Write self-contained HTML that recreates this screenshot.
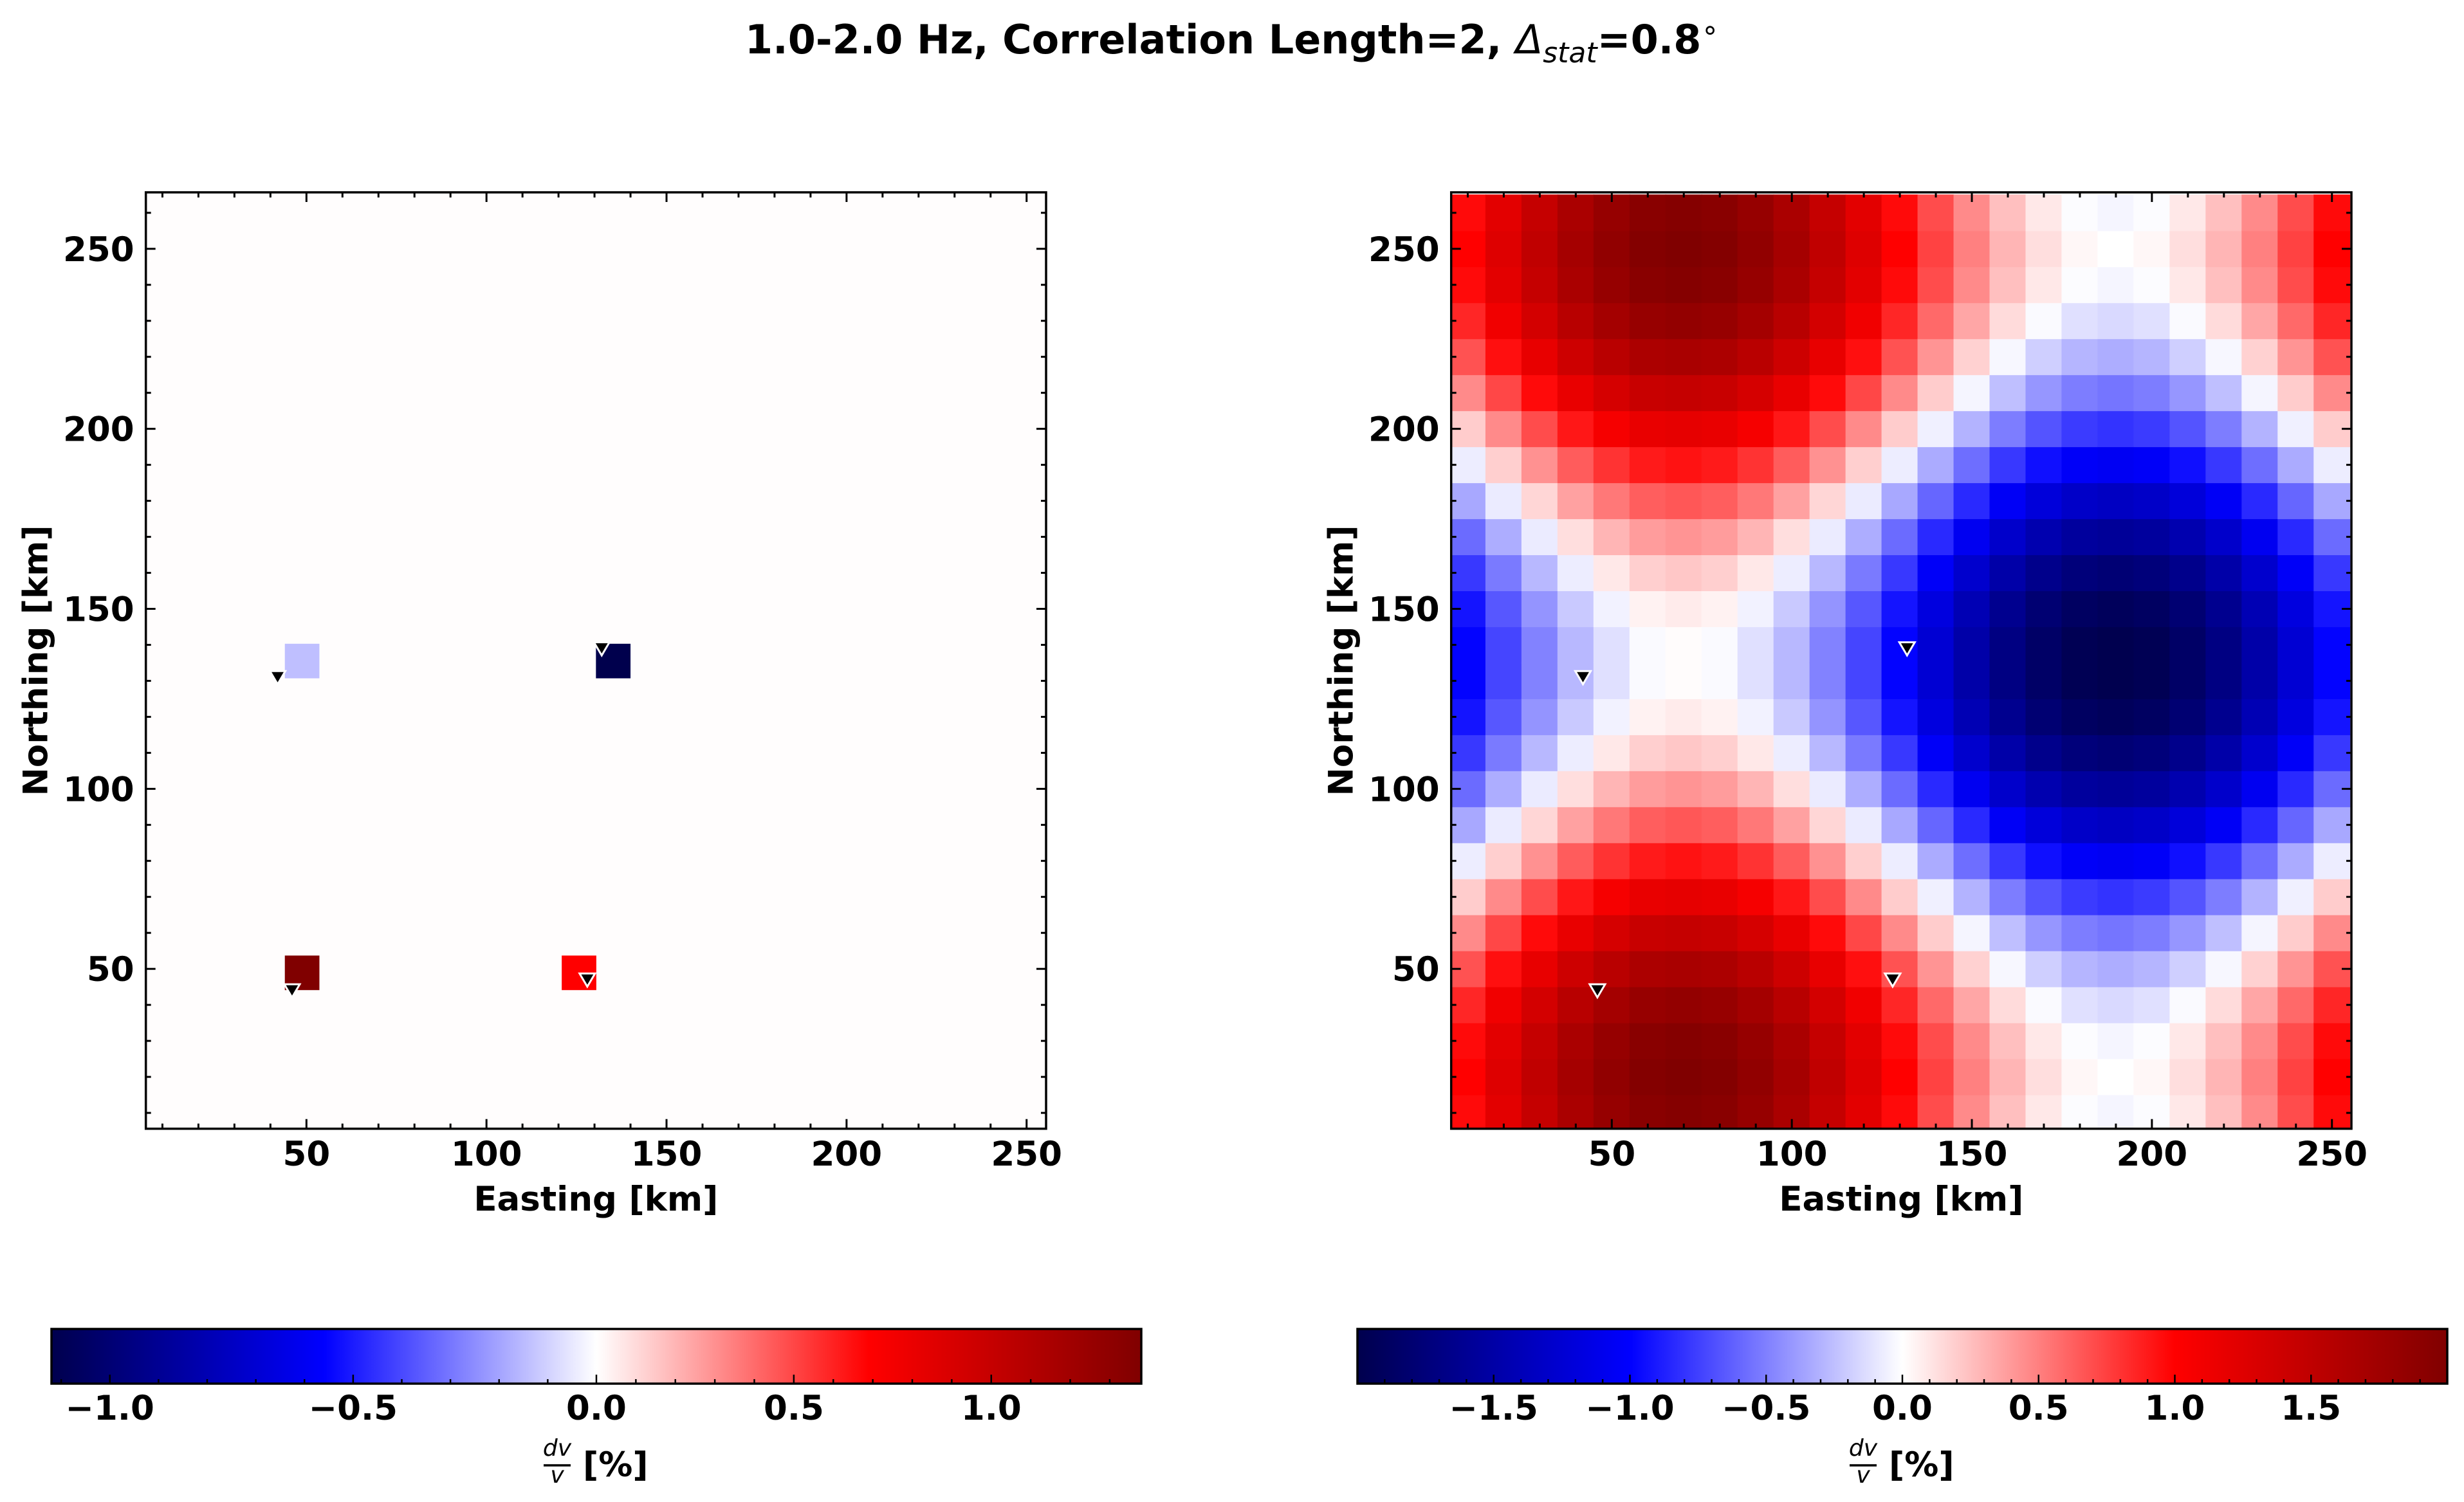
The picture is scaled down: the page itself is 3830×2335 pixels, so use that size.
<!DOCTYPE html>
<html><head><meta charset="utf-8">
<style>
html,body{margin:0;padding:0;background:#fff;}
svg{display:block;font-family:"DejaVu Sans","Liberation Sans",sans-serif;}
</style></head>
<body>
<svg id="fig" width="3830" height="2335" viewBox="0 0 3830 2335" xmlns="http://www.w3.org/2000/svg">
<defs>
<linearGradient id="seis" x1="0" x2="1" y1="0" y2="0">
<stop offset="0" stop-color="#00004d"/>
<stop offset="0.25" stop-color="#0000ff"/>
<stop offset="0.5" stop-color="#ffffff"/>
<stop offset="0.75" stop-color="#ff0000"/>
<stop offset="1" stop-color="#800000"/>
</linearGradient>
</defs>
<text x="1915" y="83" text-anchor="middle" font-size="62" font-weight="bold">1.0-2.0 Hz, Correlation Length=2, <tspan font-style="italic" font-weight="normal">Δ</tspan><tspan font-style="italic" font-weight="normal" font-size="44" dy="14">stat</tspan><tspan dy="-14">=0.8</tspan><tspan font-size="44" dy="-22" font-weight="normal">∘</tspan></text>
<g id="left"></g>
<g id="right"></g>
</svg>
<script>
// ---- data ----
const gridEast = [10,20,30,40,50,60,70,80,90,100,110,120,130,140,150,160,170,180,190,200,210,220,230,240,250];
const colProfile = [0,0.26,0.5,0.71,0.87,0.97,1,0.97,0.87,0.71,0.5,0.26,0,-0.26,-0.5,-0.71,-0.87,-0.97,-1,-0.97,-0.87,-0.71,-0.5,-0.26,0];
const gridNorth = [10,20,30,40,50,60,70,80,90,100,110,120,130,140,150,160,170,180,190,200,210,220,230,240,250,260];
const rowProfile = [0.96,1,0.96,0.85,0.68,0.46,0.2,-0.07,-0.34,-0.58,-0.78,-0.92,-0.99,-0.99,-0.92,-0.78,-0.58,-0.34,-0.07,0.2,0.46,0.68,0.85,0.96,1,0.96];
const leftCellEast = [48.8,135.2,48.8,125.7];
const leftCellNorth = [135.5,135.5,48.9,48.9];
const leftCellValue = [-0.14,-1.12,1.38,0.69];
const leftBackground = 0.006;
const stationEast = [42,132,46,128];
const stationNorth = [131,139,44,47];
const axisTicks = [50,100,150,200,250];
const leftCbTicks = [-1.0,-0.5,0.0,0.5,1.0];
const rightCbTicks = [-1.5,-1.0,-0.5,0.0,0.5,1.0,1.5];

const NS='http://www.w3.org/2000/svg';
function mk(tag,attrs,parent){const e=document.createElementNS(NS,tag);for(const k in attrs)e.setAttribute(k,attrs[k]);parent.appendChild(e);return e;}
function seismic(t){
  t=Math.max(0,Math.min(1,t));
  const st=[[0,0,0,77],[0.25,0,0,255],[0.5,255,255,255],[0.75,255,0,0],[1,128,0,0]];
  for(let i=0;i<4;i++){const a=st[i],b=st[i+1];if(t<=b[0]){const f=(t-a[0])/(b[0]-a[0]);
    return 'rgb('+Math.round(a[1]+f*(b[1]-a[1]))+','+Math.round(a[2]+f*(b[2]-a[2]))+','+Math.round(a[3]+f*(b[3]-a[3]))+')';}}
  return 'rgb(128,0,0)';
}
function makeNorm(vmin,vmax){return v=> v<0 ? 0.5-0.5*v/vmin : 0.5+0.5*v/vmax;}

function panel(g,L,opts){
  const T=299,B=1754.7,R=L+1399.3,S=5.597,x0=5.4,y0=5.6;
  const px=x=>L+(x-x0)*S, py=y=>B-(y-y0)*S;
  const clip=mk('clipPath',{id:'clip'+opts.id},g); mk('rect',{x:L,y:T,width:R-L,height:B-T},clip);
  const cells=mk('g',{'clip-path':'url(#clip'+opts.id+')'},g);
  
  
  opts.draw(cells,px,py,S);
  for(let i=0;i<stationEast.length;i++){
    const cx=px(stationEast[i]),cy=py(stationNorth[i]),h=12;
    const tri=mk('polygon',{points:(cx-h)+','+(cy-h*0.8)+' '+(cx+h)+','+(cy-h*0.8)+' '+cx+','+(cy+h*0.9),fill:'#000',stroke:'#fff','stroke-width':3,'stroke-linejoin':'miter'},g);
    
    
  }
  const tk=mk('g',{stroke:'#000','stroke-width':3},g);
  
  
  for(let v=10;v<=260;v+=10){
    const major=v%50===0, len=major?15:8;
    if(v<=255){const x=px(v);mk('line',{x1:x,x2:x,y1:B,y2:B-len},tk);mk('line',{x1:x,x2:x,y1:T,y2:T+len},tk);}
    const y=py(v);if(y>T&&y<B){mk('line',{x1:L,x2:L+len,y1:y,y2:y},tk);mk('line',{x1:R,x2:R-len,y1:y,y2:y},tk);}
  }
  for(const v of axisTicks){
    const xl=mk('text',{x:px(v),y:1812,'text-anchor':'middle','font-size':53,'font-weight':'bold'},g);xl.textContent=v;
    
    
    const yl=mk('text',{x:L-18,y:py(v)+19,'text-anchor':'end','font-size':53,'font-weight':'bold'},g);yl.textContent=v;
    
    
  }
  const fr=mk('rect',{x:L,y:T,width:R-L,height:B-T,fill:'none',stroke:'#000','stroke-width':3.5},g);
  
  
  const xt=mk('text',{x:(L+R)/2,y:1882,'text-anchor':'middle','font-size':53,'font-weight':'bold'},g);xt.textContent='Easting [km]';
  
  
  const ytx=L-226+54+19;
  const yt=mk('text',{x:ytx,y:(T+B)/2,'text-anchor':'middle','font-size':53,'font-weight':'bold',transform:'rotate(-90 '+ytx+' '+(T+B)/2+')'},g);yt.textContent='Northing [km]';
  
  
  const cL=opts.cbL,cR=cL+1694,cT=2066,cB=2151,mid=(cL+cR)/2,half=(cR-cL)/2;
  const cpos=v=> v<0 ? mid+v/(-opts.vmin)*half : mid+v/opts.vmax*half;
  const cb=mk('rect',{x:cL,y:cT,width:cR-cL,height:cB-cT,fill:'url(#seis)',stroke:'#000','stroke-width':3.5},g);
  
  
  const ct=mk('g',{stroke:'#000','stroke-width':2.5},g);
  for(let k=-30;k<=30;k++){const v=k/10;if(v<=opts.vmin||v>=opts.vmax)continue;
    const major=k%5===0,x=cpos(v);mk('line',{x1:x,x2:x,y1:cB,y2:cB-(major?14:7)},ct);}
  for(const v of opts.ticks){
    const t=mk('text',{x:cpos(v),y:2207,'text-anchor':'middle','font-size':53,'font-weight':'bold'},g);
    t.textContent=(v<0?'\u2212':'')+Math.abs(v).toFixed(1);
    
    
  }
  const lab=mk('g',{},g);
  
  
  const fx=cL+786;
  const n=mk('text',{x:fx,y:2263,'text-anchor':'middle','font-size':36,'font-style':'italic'},lab);n.textContent='dv';
  mk('line',{x1:fx-21,x2:fx+21,y1:2278,y2:2278,stroke:'#000','stroke-width':3.5},lab);
  const d=mk('text',{x:fx,y:2305,'text-anchor':'middle','font-size':36,'font-style':'italic'},lab);d.textContent='v';
  const p=mk('text',{x:fx+40,y:2295,'font-size':53,'font-weight':'bold'},lab);p.textContent='[%]';
}

panel(document.getElementById('left'),226.7,{id:'L',cbL:80,vmin:-1.12,vmax:1.38,ticks:leftCbTicks,
  draw:(g,px,py,S)=>{
    const n=makeNorm(-1.12,1.38);
    const bg=mk('rect',{x:px(5),y:py(270),width:px(260)-px(5),height:py(0)-py(270),fill:seismic(n(leftBackground))},g);
    
    
    for(let i=0;i<leftCellValue.length;i++){
      const w=9.6;
      const r=mk('rect',{x:px(leftCellEast[i]-w/2),y:py(leftCellNorth[i]+w/2),width:w*S,height:w*S,fill:seismic(n(leftCellValue[i]))},g);
      
      
    }
  }});
panel(document.getElementById('right'),2255.7,{id:'R',cbL:2110,vmin:-2.0,vmax:2.0,ticks:rightCbTicks,
  draw:(g,px,py,S)=>{
    const n=makeNorm(-2.0,2.0);
    for(let i=0;i<gridEast.length;i++){for(let j=0;j<gridNorth.length;j++){
      const v=colProfile[i]+rowProfile[j];
      const x1=px(gridEast[i]-5),x2=px(gridEast[i]+5),y1=py(gridNorth[j]+5),y2=py(gridNorth[j]-5);
      const r=mk('rect',{x:x1-0.5,y:y1-0.5,width:x2-x1+1,height:y2-y1+1,fill:seismic(n(v))},g);
      
      
    }}
  }});
</script>
</body></html>
